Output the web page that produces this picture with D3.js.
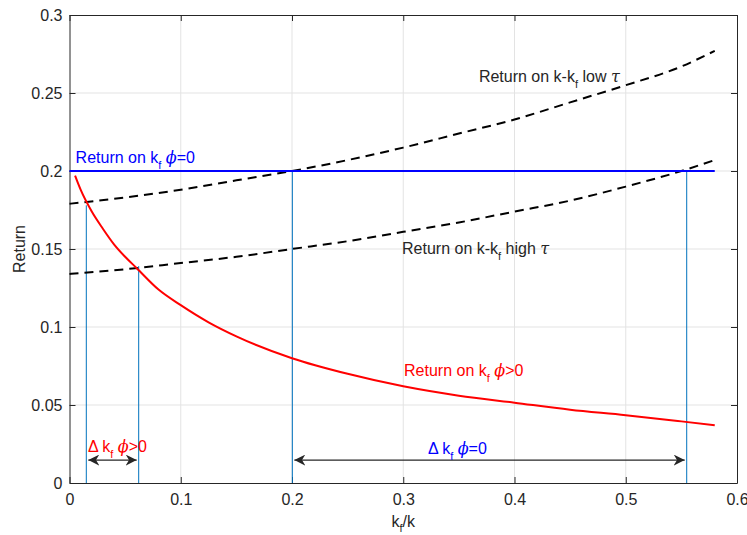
<!DOCTYPE html>
<html>
<head>
<meta charset="utf-8">
<script src="https://cdn.jsdelivr.net/npm/d3@7"></script>
<style>
  body { margin: 0; background: #fff; }
  svg text { font-family: "Liberation Sans", Arial, sans-serif; }
</style>
</head>
<body>
<div id="chart"></div>
<script>
// curve samples
const xsRed = [0.005, 0.01, 0.02, 0.03, 0.04, 0.05, 0.06, 0.08, 0.1, 0.125, 0.15, 0.2, 0.25, 0.3, 0.35, 0.4, 0.45, 0.5, 0.55, 0.58];
const redVals = [0.197, 0.188, 0.174, 0.163, 0.153, 0.145, 0.138, 0.124, 0.114, 0.103, 0.094, 0.080, 0.070, 0.062, 0.056, 0.0515, 0.047, 0.0435, 0.0395, 0.037];

const xsDash = [0, 0.05, 0.1, 0.15, 0.2, 0.25, 0.3, 0.35, 0.4, 0.45, 0.5, 0.55, 0.58];
const lowTau = [0.179, 0.183, 0.188, 0.194, 0.2, 0.207, 0.215, 0.224, 0.233, 0.244, 0.255, 0.267, 0.277];
const highTau = [0.134, 0.137, 0.141, 0.145, 0.15, 0.155, 0.161, 0.167, 0.174, 0.181, 0.19, 0.2, 0.207];

const flatLine = [[0, 0.2], [0.58, 0.2]];

// vertical markers: [x, top]
const markers = [[0.0151, 0.178], [0.0622, 0.139], [0.2003, 0.2], [0.5548, 0.2]];
// double arrows: [x0, x1, y]
const arrows = [[0.0151, 0.0622, 0.0147], [0.2003, 0.5548, 0.0147]];

const xTicks = [0, 0.1, 0.2, 0.3, 0.4, 0.5, 0.6];
const yTicks = [0, 0.05, 0.1, 0.15, 0.2, 0.25, 0.3];

const W = 747, H = 535;
const margin = { top: 15, right: 10, bottom: 52, left: 69.5 };
const width = W - margin.left - margin.right,
      height = H - margin.top - margin.bottom;

const svg = d3.select("#chart").append("svg")
  .attr("width", W).attr("height", H);

const g = svg.append("g")
  .attr("transform", `translate(${margin.left},${margin.top})`);

const x = d3.scaleLinear().domain([0, 0.6]).range([0, width]);
const y = d3.scaleLinear().domain([0, 0.3]).range([height, 0]);

// grid
g.append("g").selectAll("line").data(xTicks.slice(1, -1)).enter().append("line")
  .attr("x1", d => x(d)).attr("x2", d => x(d))
  .attr("y1", 0).attr("y2", height)
  .attr("stroke", "#e3e3e3").attr("stroke-width", 1);
g.append("g").selectAll("line").data(yTicks.slice(1, -1)).enter().append("line")
  .attr("y1", d => y(d)).attr("y2", d => y(d))
  .attr("x1", 0).attr("x2", width)
  .attr("stroke", "#e3e3e3").attr("stroke-width", 1);

// axes (ticks inside, box)
const axColor = "#262626";
function styleAxis(sel) {
  sel.select(".domain").attr("stroke", axColor);
  sel.selectAll(".tick line").attr("stroke", axColor);
  sel.selectAll(".tick text").attr("fill", axColor).style("font-size", "16px");
}
g.append("g").attr("transform", `translate(0,${height})`)
  .call(d3.axisBottom(x).tickValues(xTicks).tickSize(-6).tickPadding(11).tickSizeOuter(0)
    .tickFormat(d3.format("~g")))
  .call(styleAxis);
g.append("g")
  .call(d3.axisLeft(y).tickValues(yTicks).tickSize(-6).tickPadding(7).tickSizeOuter(0)
    .tickFormat(d3.format("~g")))
  .call(styleAxis);
g.append("g")
  .call(d3.axisTop(x).tickValues(xTicks).tickSize(-6).tickSizeOuter(0).tickFormat(""))
  .call(styleAxis);
g.append("g").attr("transform", `translate(${width},0)`)
  .call(d3.axisRight(y).tickValues(yTicks).tickSize(-6).tickSizeOuter(0).tickFormat(""))
  .call(styleAxis);

// vertical markers
g.append("g").selectAll("line").data(markers).enter().append("line")
  .attr("x1", d => x(d[0])).attr("x2", d => x(d[0]))
  .attr("y1", y(0)).attr("y2", d => y(d[1]))
  .attr("stroke", "#0072BD").attr("stroke-width", 1);

const line = d3.line().x(d => x(d[0])).y(d => y(d[1])).curve(d3.curveMonotoneX);

g.append("path").datum(d3.zip(xsDash, lowTau))
  .attr("d", line).attr("fill", "none")
  .attr("stroke", "#000").attr("stroke-width", 2).attr("stroke-dasharray", "9,6");
g.append("path").datum(d3.zip(xsDash, highTau))
  .attr("d", line).attr("fill", "none")
  .attr("stroke", "#000").attr("stroke-width", 2).attr("stroke-dasharray", "9,6");
g.append("path").datum(flatLine)
  .attr("d", line).attr("fill", "none")
  .attr("stroke", "#0000ff").attr("stroke-width", 2);
g.append("path").datum(d3.zip(xsRed, redVals))
  .attr("d", line).attr("fill", "none")
  .attr("stroke", "#ff0000").attr("stroke-width", 2);

// arrows
const defs = svg.append("defs");
defs.append("marker").attr("id", "head")
  .attr("viewBox", "0 0 10 10").attr("refX", 10).attr("refY", 5)
  .attr("markerWidth", 11).attr("markerHeight", 11)
  .attr("markerUnits", "userSpaceOnUse")
  .attr("orient", "auto-start-reverse")
  .append("path").attr("d", "M0,0 L10,5 L0,10 L3,5 Z").attr("fill", "#262626");

g.append("g").selectAll("line").data(arrows).enter().append("line")
  .attr("x1", d => x(d[0]) + 2).attr("x2", d => x(d[1]) - 2)
  .attr("y1", d => y(d[2])).attr("y2", d => y(d[2]))
  .attr("stroke", "#262626").attr("stroke-width", 1.2)
  .attr("marker-start", "url(#head)").attr("marker-end", "url(#head)");

// labels with subscript f and greek symbols
function label(px, py, color, parts) {
  const t = g.append("text").attr("x", px).attr("y", py)
    .attr("fill", color).style("font-size", "16px");
  parts.forEach(p => {
    const s = t.append("tspan").text(p.t);
    if (p.sub) s.attr("dy", 6).style("font-size", "11px");
    if (p.back) s.attr("dy", -6);
    if (p.it) s.style("font-style", "italic").style("font-family", "'DejaVu Serif', serif");
  });
}

label(x(0.0055), y(0.2051), "#0000ff",
  [{ t: "Return on k" }, { t: "f", sub: true }, { t: " ", back: true }, { t: "\u03d5", it: true }, { t: "=0" }]);
label(x(0.368), y(0.257), "#262626",
  [{ t: "Return on k-k" }, { t: "f", sub: true }, { t: " low ", back: true }, { t: "\u03c4", it: true }]);
label(x(0.2989), y(0.1468), "#262626",
  [{ t: "Return on k-k" }, { t: "f", sub: true }, { t: " high ", back: true }, { t: "\u03c4", it: true }]);
label(x(0.3007), y(0.0686), "#ff0000",
  [{ t: "Return on k" }, { t: "f", sub: true }, { t: " ", back: true }, { t: "\u03d5", it: true }, { t: ">0" }]);
label(x(0.0166), y(0.0199), "#ff0000",
  [{ t: "\u0394 k" }, { t: "f", sub: true }, { t: " ", back: true }, { t: "\u03d5", it: true }, { t: ">0" }]);
label(x(0.3222), y(0.0186), "#0000ff",
  [{ t: "\u0394 k" }, { t: "f", sub: true }, { t: " ", back: true }, { t: "\u03d5", it: true }, { t: "=0" }]);

// axis titles
const xt = svg.append("text")
  .attr("x", margin.left + width / 2).attr("y", 527)
  .attr("text-anchor", "middle").attr("fill", axColor).style("font-size", "16px");
xt.append("tspan").text("k");
xt.append("tspan").text("f").attr("dy", 5).style("font-size", "11px");
xt.append("tspan").text("/k").attr("dy", -5);

svg.append("text")
  .attr("transform", `translate(25,${margin.top + height / 2}) rotate(-90)`)
  .attr("text-anchor", "middle").attr("fill", axColor).style("font-size", "16px")
  .text("Return");
</script>
</body>
</html>
